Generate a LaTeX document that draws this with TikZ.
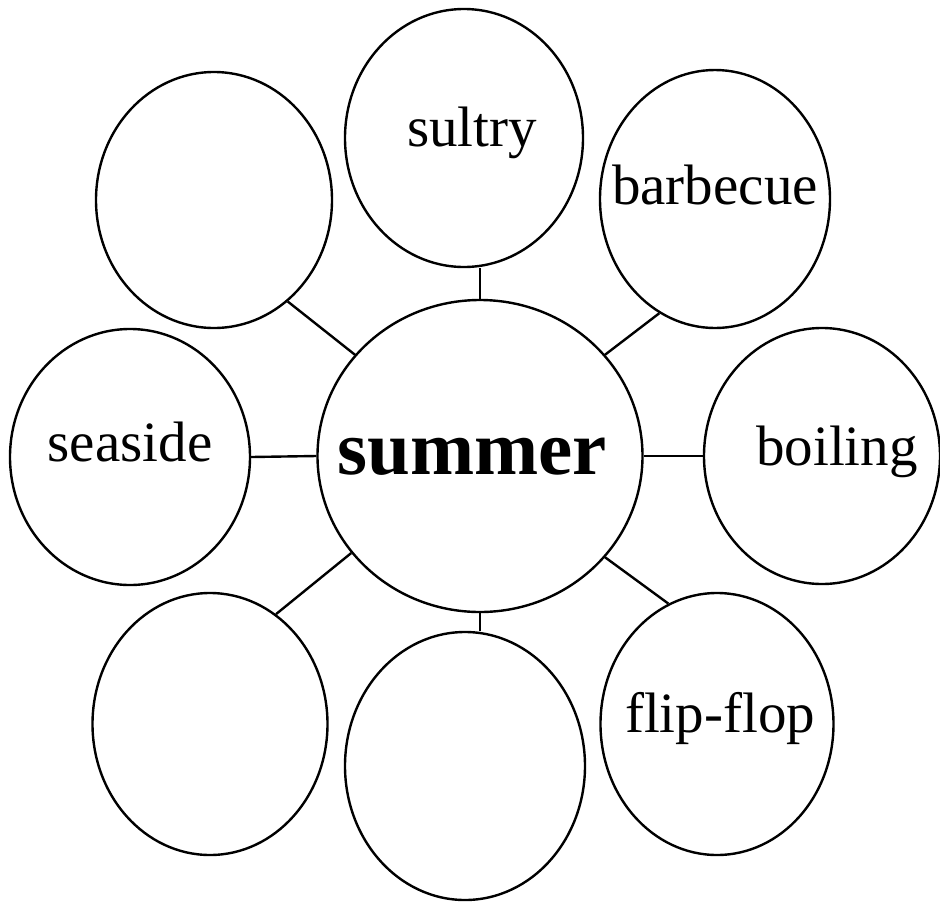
\documentclass[tikz,border=0pt]{standalone}
\usepackage{fontspec}
\setmainfont{Liberation Serif}
\usetikzlibrary{shapes.geometric}

\begin{document}
\begin{tikzpicture}[
    x=1pt, y=-1pt,
    bubble/.style={draw, ellipse, line width=2.4pt, inner sep=0pt, minimum width=234pt, minimum height=258pt},
    word/.style={font=\fontsize{57}{60}\selectfont, inner sep=0pt},
    link/.style={line width=2.4pt}
]
\useasboundingbox (0,0) rectangle (940,903);
% centre
\node[bubble, minimum width=325pt, minimum height=312pt] (summer) at (480,456) {};
\node[word, font=\fontsize{77}{80}\selectfont\bfseries] (summertxt) at (472,457) {summer};
% ring of bubbles
\node[bubble, minimum width=236pt, minimum height=256pt] (nw) at (214,200) {};
\node[bubble, minimum width=238pt, minimum height=258pt] (sultry) at (464,138) {};
\node[bubble, minimum width=230pt, minimum height=258pt] (barbecue) at (715,199) {};
\node[bubble, minimum width=240pt, minimum height=256pt] (seaside) at (130,457) {};
\node[bubble, minimum width=236pt, minimum height=256pt] (boiling) at (822,456) {};
\node[bubble, minimum width=235pt, minimum height=262pt] (sw) at (210,724) {};
\node[bubble, minimum width=240pt, minimum height=268pt] (s) at (465,766) {};
\node[bubble, minimum width=233pt, minimum height=262pt] (flipflop) at (717,724) {};
% words
\node[word] (sultrytxt) at (472,133) {sultry};
\node[word] (barbecuetxt) at (715,185) {barbecue};
\node[word] (seasidetxt) at (130,442) {seaside};
\node[word] (boilingtxt) at (837,452) {boiling};
\node[word] (flipfloptxt) at (720,718) {flip-flop};

\draw[link] (summer.141) -- (nw.-54);
\draw[link] (summer.90) -- (sultry.south -| summer.90);
\draw[link] (summer.39) -- (barbecue.-116);
\draw[link] (summer.180) -- (seaside.0);
\draw[link] (summer.0) -- (boiling.180);
\draw[link] (summer.217) -- (sw.59);
\draw[link] (summer.270) -- (s.north -| summer.270);
\draw[link] (summer.-39) -- (flipflop.112);
\end{tikzpicture}
\end{document}
